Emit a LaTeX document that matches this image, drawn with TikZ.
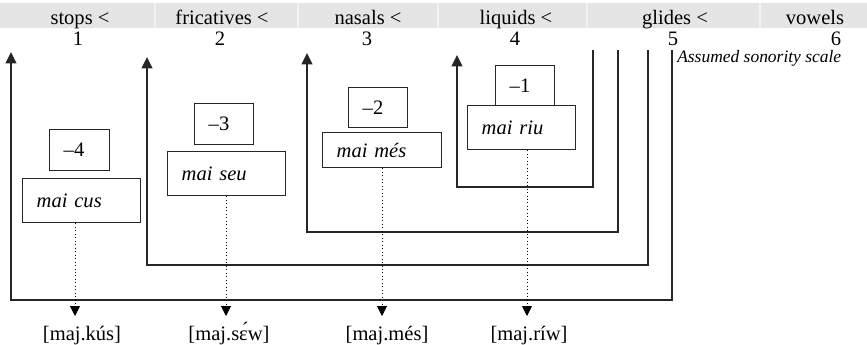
\documentclass[tikz,border=0pt]{standalone}
\usepackage{fontspec}
\setmainfont{Liberation Serif}
\usetikzlibrary{arrows.meta}
\begin{document}
\begin{tikzpicture}[x=0.75pt,y=-0.75pt,
  big/.style={font=\fontsize{15.4}{18}\selectfont, inner sep=0pt},
  small/.style={font=\fontsize{13.1}{15}\selectfont\itshape, inner sep=0pt},
  wbox/.style={draw=black!85, line width=1.1pt, anchor=north west, align=left,
    inner xsep=10.5pt, inner ysep=0pt, font=\fontsize{15.4}{18}\selectfont},
  bline/.style={draw=black!85, line width=1.3pt, line join=miter},
  uparrow/.style={bline, -{Triangle[width=8pt,length=8.5pt]}},
  dotarrow/.style={draw=black, line width=0.6pt, dotted,
    -{Triangle[width=7.5pt,length=7.5pt]}},
]
\useasboundingbox (0,0) rectangle (867,345);

% header band with the sonority classes
\fill[black!10] (0,3) rectangle (867,28);
\foreach \sx in {155,298,438,587,760}
  \draw[black!5, line width=0.8pt] (\sx,3) -- (\sx,28);
\node[big, anchor=base] (hs) at (80,25) {stops <};
\node[big, anchor=base] (hf) at (222,25) {fricatives <};
\node[big, anchor=base] (hn) at (368,25) {nasals <};
\node[big, anchor=base] (hl) at (516,25) {liquids <};
\node[big, anchor=base] (hg) at (675,25) {glides <};
\node[big, anchor=base] (hv) at (815,25) {vowels};

\node[big, anchor=base] (s1) at (78,46) {1};
\node[big, anchor=base] (s2) at (220,46) {2};
\node[big, anchor=base] (s3) at (367,46) {3};
\node[big, anchor=base] (s4) at (515,46) {4};
\node[big, anchor=base] (s5) at (673,46) {5};
\node[big, anchor=base] (s6) at (836,46) {6};

\node[small, anchor=base west] (scale) at (677,63) {Assumed sonority scale};

% nested brackets, each ending in an upward arrow
\coordinate (a1) at (11,52);  \coordinate (a1b) at (11,300);
\coordinate (r1) at (672,50); \coordinate (r1b) at (672,300);
\coordinate (a2) at (147,57); \coordinate (a2b) at (147,265);
\coordinate (r2) at (648,50); \coordinate (r2b) at (648,265);
\coordinate (a3) at (307,53); \coordinate (a3b) at (307,232);
\coordinate (r3) at (618,50); \coordinate (r3b) at (618,232);
\coordinate (a4) at (457,55); \coordinate (a4b) at (457,187);
\coordinate (r4) at (593,50); \coordinate (r4b) at (593,187);
\draw[uparrow] (r1) -- (r1b) -- (a1b) -- (a1);
\draw[uparrow] (r2) -- (r2b) -- (a2b) -- (a2);
\draw[uparrow] (r3) -- (r3b) -- (a3b) -- (a3);
\draw[uparrow] (r4) -- (r4b) -- (a4b) -- (a4);

% value boxes and word boxes
\node[wbox, text width=24pt, minimum height=30.75pt] (n4) at (49,129) {–4};
\node[wbox, text width=67.5pt, minimum height=33pt] (wcus) at (22,178) {\itshape mai cus};
\node[wbox, text width=23.25pt, minimum height=30.75pt] (n3) at (194,103) {–3};
\node[wbox, text width=67.5pt, minimum height=33pt] (wseu) at (167,151) {\itshape mai seu};
\node[wbox, text width=23.25pt, minimum height=30pt] (n2) at (348,87) {–2};
\node[wbox, text width=68.25pt, minimum height=26.25pt] (wmes) at (322,132) {\itshape mai més};
\node[wbox, text width=23.25pt, minimum height=30pt] (n1) at (495,65) {–1};
\node[wbox, text width=60pt, minimum height=33pt] (wriu) at (467,105) {\itshape mai riu};

% dotted arrows to the surface forms
\coordinate (t1) at (75,316);
\coordinate (t2) at (226,316);
\coordinate (t3) at (382,316);
\coordinate (t4) at (527,316);
\draw[dotarrow] (wcus.south -| t1) -- (t1);
\draw[dotarrow] (wseu.south -| t2) -- (t2);
\draw[dotarrow] (wmes.south -| t3) -- (t3);
\draw[dotarrow] (wriu.south -| t4) -- (t4);

\node[big, anchor=base] (o1) at (82,340) {[maj.kús]};
\node[big, anchor=base] (o2) at (229,340) {[maj.sɛ́w]};
\node[big, anchor=base] (o3) at (387,340) {[maj.més]};
\node[big, anchor=base] (o4) at (529,340) {[maj.ríw]};
\end{tikzpicture}
\end{document}
